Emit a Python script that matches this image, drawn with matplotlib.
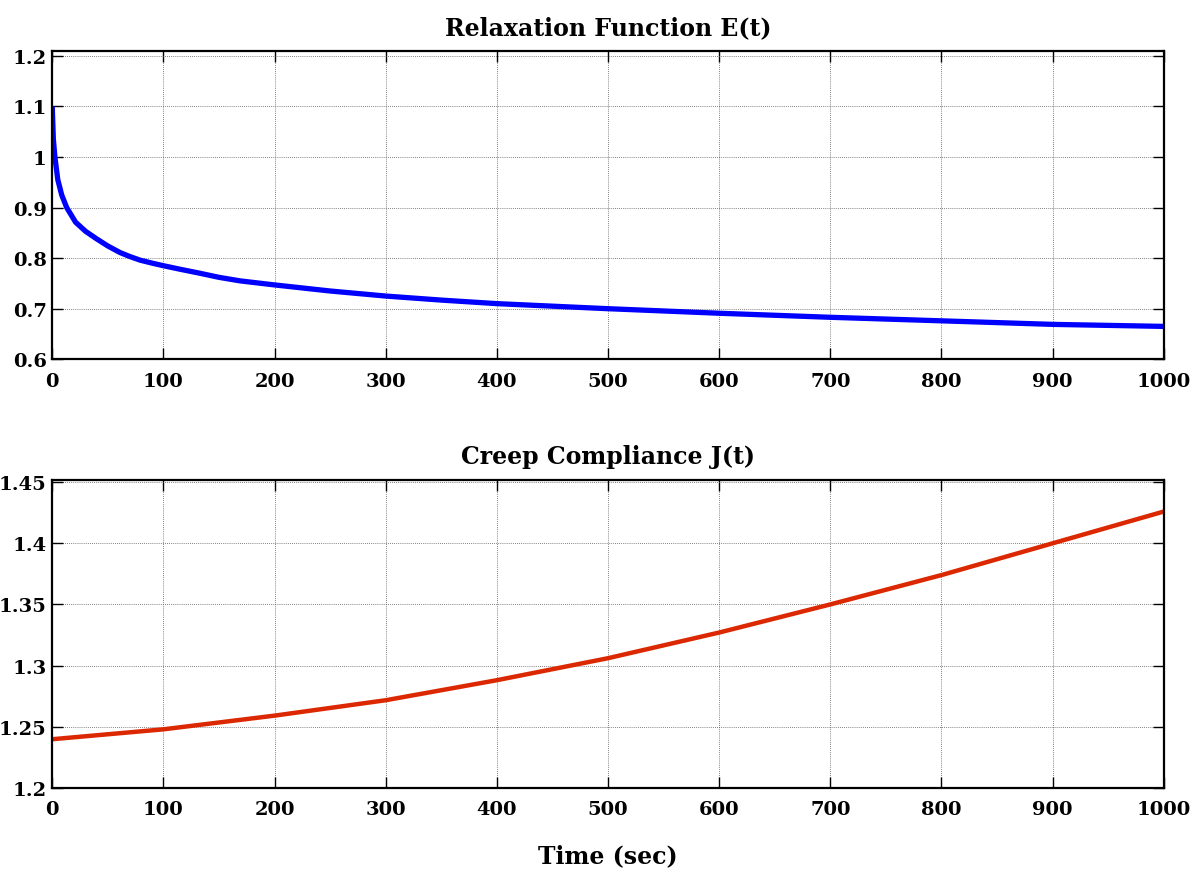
import matplotlib
matplotlib.use("Agg")
import matplotlib.pyplot as plt

# values
relax_t = [0, 1, 2.4, 5, 8.5, 13, 21, 30, 40, 50, 61, 70, 79, 90, 100, 115,
           133, 150, 169, 200, 250, 300, 350, 400, 450, 500, 600, 700, 800,
           900, 1000]
relax_e = [1.1, 1.035, 1.0, 0.955, 0.925, 0.9, 0.871, 0.853, 0.838, 0.824,
           0.811, 0.803, 0.796, 0.790, 0.785, 0.778, 0.770, 0.762, 0.755,
           0.747, 0.735, 0.725, 0.717, 0.710, 0.705, 0.700, 0.691, 0.683,
           0.676, 0.669, 0.665]

creep_t = [0, 100, 200, 300, 400, 500, 600, 700, 800, 900, 1000]
creep_j = [1.2397, 1.2478, 1.259, 1.2716, 1.288, 1.306, 1.327, 1.350,
           1.374, 1.400, 1.426]

x_ticks = [0, 100, 200, 300, 400, 500, 600, 700, 800, 900, 1000]
relax_yticks = [0.6, 0.7, 0.8, 0.9, 1.0, 1.1, 1.2]
relax_ylabels = ['0.6', '0.7', '0.8', '0.9', '1', '1.1', '1.2']
creep_yticks = [1.2, 1.25, 1.3, 1.35, 1.4, 1.45]
creep_ylabels = ['1.2', '1.25', '1.3', '1.35', '1.4', '1.45']

plt.rcParams['font.family'] = ['DejaVu Serif']
plt.rcParams['font.weight'] = 'bold'

fig = plt.figure(figsize=(12.01, 8.70), dpi=100)
ax1 = fig.add_axes([0.0435, 0.5859, 0.9255, 0.354])
ax2 = fig.add_axes([0.0435, 0.0934, 0.9255, 0.354])


def style_axes(ax, yticks, ylabels, ylim):
    ax.set_xlim(0, 1000)
    ax.set_ylim(*ylim)
    ax.set_xticks(x_ticks)
    ax.set_xticklabels([str(v) for v in x_ticks])
    ax.set_yticks(yticks)
    ax.set_yticklabels(ylabels)
    ax.tick_params(direction='in', length=8, width=1.0, top=True, right=True,
                   labelsize=14, color='black')
    ax.tick_params(axis='x', pad=9)
    ax.tick_params(axis='y', pad=4)
    for lab in ax.get_xticklabels() + ax.get_yticklabels():
        lab.set_fontweight('bold')
    for sp in ax.spines.values():
        sp.set_linewidth(1.6)
    ax.grid(True, color='0.35', linestyle=(0, (1, 1.5)), linewidth=0.6)
    ax.set_axisbelow(True)


ax1.plot(relax_t, relax_e, color='#0000ff', linewidth=3.8, solid_capstyle='butt')
style_axes(ax1, relax_yticks, relax_ylabels, (0.6, 1.209))
ax1.set_title('Relaxation Function E(t)', fontsize=17, fontweight='bold', pad=12)

ax2.plot(creep_t, creep_j, color='#dc2800', linewidth=3.2, solid_capstyle='butt')
style_axes(ax2, creep_yticks, creep_ylabels, (1.2, 1.452))
ax2.set_title('Creep Compliance J(t)', fontsize=17, fontweight='bold', pad=12)
ax2.set_xlabel('Time (sec)', fontsize=17, fontweight='bold', labelpad=18)

fig.savefig('out.png', dpi=100)
